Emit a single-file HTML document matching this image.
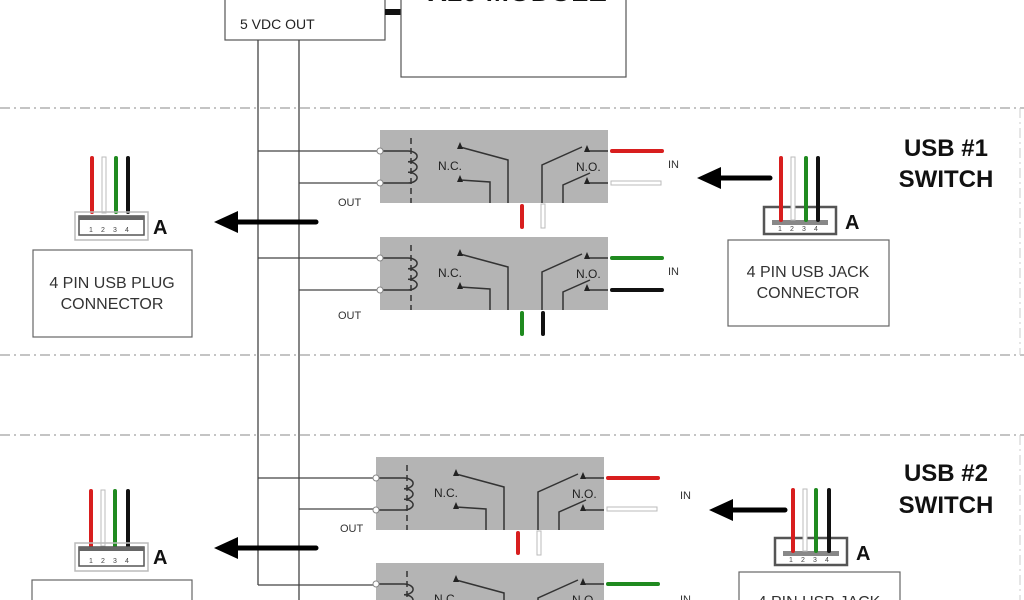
<!DOCTYPE html>
<html><head><meta charset="utf-8"><style>
html,body{margin:0;padding:0;background:#fff;width:1024px;height:600px;overflow:hidden;}
svg{display:block;font-family:"Liberation Sans",Arial,sans-serif;}
</style></head><body>
<svg width="1024" height="600" viewBox="0 0 1024 600" xmlns="http://www.w3.org/2000/svg">
<defs>
<g id="relay">
<rect x="0" y="0" width="228" height="73" fill="#b4b4b4"/>
<g stroke="#333" stroke-width="1.5" fill="none">
<line x1="0" y1="21" x2="28" y2="21"/>
<line x1="0" y1="53" x2="28" y2="53"/>
<path d="M28 21 A9 5.3 0 0 1 28 31.7 A9 5.3 0 0 1 28 42.3 A9 5.3 0 0 1 28 53"/>
<line x1="31" y1="8" x2="31" y2="73" stroke-dasharray="6,4"/>
<polyline points="80,17 128,30 128,73"/>
<polyline points="80,50 110,52 110,73"/>
<polyline points="162,73 162,35 202,17"/>
<polyline points="183,73 183,55 210,43"/>
<line x1="207" y1="21" x2="228" y2="21"/>
<line x1="207" y1="53" x2="228" y2="53"/>
</g>
<g fill="#222">
<polygon points="77,19 83,19 80,12"/>
<polygon points="77,52 83,52 80,45"/>
<polygon points="204,22 210,22 207,15"/>
<polygon points="204,54 210,54 207,47"/>
</g>
<text x="58" y="40" font-size="12" fill="#222">N.C.</text>
<text x="196" y="41" font-size="12" fill="#222">N.O.</text>
<circle cx="0" cy="21" r="3" fill="#fff" stroke="#888"/>
<circle cx="0" cy="53" r="3" fill="#fff" stroke="#888"/>
</g>
<g id="plug">
<rect x="0" y="0" width="73" height="28" fill="none" stroke="#bbb" stroke-width="1.5"/>
<rect x="4" y="4" width="65" height="19" fill="#fff" stroke="#555" stroke-width="1.5"/>
<rect x="4" y="4" width="65" height="4" fill="#666"/>
<text x="14" y="20" font-size="7" fill="#444">1</text><text x="26" y="20" font-size="7" fill="#444">2</text><text x="38" y="20" font-size="7" fill="#444">3</text><text x="50" y="20" font-size="7" fill="#444">4</text>
</g>
<g id="jack">
<rect x="0" y="0" width="72" height="27" fill="#fff" stroke="#555" stroke-width="2.5"/>
<rect x="8" y="13" width="56" height="5" fill="#888"/>
<text x="14" y="24" font-size="7" fill="#444">1</text><text x="26" y="24" font-size="7" fill="#444">2</text><text x="38" y="24" font-size="7" fill="#444">3</text><text x="50" y="24" font-size="7" fill="#444">4</text>
</g>
</defs>

<rect x="225" y="-10" width="160" height="50" fill="#fff" stroke="#555" stroke-width="1.2"/>
<text x="240" y="29" font-size="14" fill="#222">5 VDC OUT</text>
<rect x="385" y="9" width="16" height="6" fill="#111"/>
<rect x="401" y="-10" width="225" height="87" fill="#fff" stroke="#555" stroke-width="1.2"/>
<text x="428" y="1" font-size="28" font-weight="bold" fill="#111">X10 MODULE</text>

<g stroke="#888" stroke-width="1" stroke-dasharray="10,4,2,4" fill="none">
<line x1="0" y1="108" x2="1024" y2="108"/>
<line x1="0" y1="355" x2="1024" y2="355"/>
<line x1="0" y1="435" x2="1024" y2="435"/>
<line x1="1020" y1="108" x2="1020" y2="355" stroke="#ccc"/>
<line x1="1020" y1="435" x2="1020" y2="600" stroke="#ccc"/>
</g>

<g stroke="#444" stroke-width="1.3" fill="none">
<line x1="258" y1="40" x2="258" y2="585"/>
<line x1="299" y1="40" x2="299" y2="600"/>
<line x1="258" y1="151" x2="380" y2="151"/>
<line x1="299" y1="183" x2="380" y2="183"/>
<line x1="258" y1="258" x2="380" y2="258"/>
<line x1="299" y1="290" x2="380" y2="290"/>
<line x1="258" y1="478" x2="376" y2="478"/>
<line x1="299" y1="509" x2="376" y2="509"/>
<line x1="258" y1="585" x2="376" y2="585"/>
</g>

<use href="#relay" x="380" y="130"/>
<use href="#relay" x="380" y="237"/>
<use href="#relay" x="376" y="457"/>
<use href="#relay" x="376" y="563"/>

<g stroke-linecap="round" stroke-width="4">
<line x1="612" y1="151" x2="662" y2="151" stroke="#d81e1e"/>
<rect x="611" y="181" width="50" height="4" fill="#fff" stroke="#bbb" stroke-width="1"/>
<line x1="522" y1="206" x2="522" y2="227" stroke="#d81e1e"/>
<rect x="541" y="204" width="4" height="24" fill="#fff" stroke="#bbb" stroke-width="1"/>
<line x1="612" y1="258" x2="662" y2="258" stroke="#1f8a1f"/>
<line x1="612" y1="290" x2="662" y2="290" stroke="#111"/>
<line x1="522" y1="313" x2="522" y2="334" stroke="#1f8a1f"/>
<line x1="543" y1="313" x2="543" y2="334" stroke="#111"/>
<line x1="608" y1="478" x2="658" y2="478" stroke="#d81e1e"/>
<rect x="607" y="507" width="50" height="4" fill="#fff" stroke="#bbb" stroke-width="1"/>
<line x1="518" y1="533" x2="518" y2="553" stroke="#d81e1e"/>
<rect x="537" y="531" width="4" height="24" fill="#fff" stroke="#bbb" stroke-width="1"/>
<line x1="608" y1="584" x2="658" y2="584" stroke="#1f8a1f"/>
</g>

<g font-size="11" fill="#333">
<text x="668" y="168">IN</text><text x="668" y="275">IN</text>
<text x="680" y="499">IN</text><text x="680" y="603">IN</text>
<text x="338" y="206">OUT</text><text x="338" y="319">OUT</text><text x="340" y="532">OUT</text>
</g>

<g stroke="#000" stroke-width="5" stroke-linecap="round">
<line x1="316" y1="222" x2="232" y2="222"/>
<line x1="770" y1="178" x2="715" y2="178"/>
<line x1="316" y1="548" x2="232" y2="548"/>
<line x1="785" y1="510" x2="727" y2="510"/>
</g>
<g fill="#000">
<polygon points="214,222 238,211 238,233"/>
<polygon points="697,178 721,167 721,189"/>
<polygon points="214,548 238,537 238,559"/>
<polygon points="709,510 733,499 733,521"/>
</g>

<g stroke-width="4" stroke-linecap="round">
<line x1="92" y1="158" x2="92" y2="212" stroke="#d81e1e"/>
<line x1="116" y1="158" x2="116" y2="212" stroke="#1f8a1f"/>
<line x1="128" y1="158" x2="128" y2="212" stroke="#111"/>
<line x1="91" y1="491" x2="91" y2="546" stroke="#d81e1e"/>
<line x1="115" y1="491" x2="115" y2="546" stroke="#1f8a1f"/>
<line x1="128" y1="491" x2="128" y2="546" stroke="#111"/>
</g>
<rect x="102" y="157" width="4" height="56" fill="#fff" stroke="#bbb" stroke-width="1"/>
<rect x="101" y="490" width="4" height="56" fill="#fff" stroke="#bbb" stroke-width="1"/>
<use href="#plug" x="75" y="212"/>
<use href="#plug" x="75" y="543"/>
<text x="153" y="234" font-size="20" font-weight="bold" fill="#111">A</text>
<text x="153" y="564" font-size="20" font-weight="bold" fill="#111">A</text>
<rect x="33" y="250" width="159" height="87" fill="#fff" stroke="#666" stroke-width="1.2"/>
<text x="112" y="288" font-size="16" fill="#333" text-anchor="middle">4 PIN USB PLUG</text>
<text x="112" y="309" font-size="16" fill="#333" text-anchor="middle">CONNECTOR</text>
<rect x="32" y="580" width="160" height="40" fill="#fff" stroke="#666" stroke-width="1.2"/>

<use href="#jack" x="764" y="207"/>
<use href="#jack" x="775" y="538"/>
<g stroke-width="4" stroke-linecap="round">
<line x1="781" y1="158" x2="781" y2="220" stroke="#d81e1e"/>
<line x1="806" y1="158" x2="806" y2="220" stroke="#1f8a1f"/>
<line x1="818" y1="158" x2="818" y2="220" stroke="#111"/>
<line x1="793" y1="490" x2="793" y2="551" stroke="#d81e1e"/>
<line x1="816" y1="490" x2="816" y2="551" stroke="#1f8a1f"/>
<line x1="829" y1="490" x2="829" y2="551" stroke="#111"/>
</g>
<rect x="791" y="157" width="4" height="63" fill="#fff" stroke="#bbb" stroke-width="1"/>
<rect x="803" y="489" width="4" height="62" fill="#fff" stroke="#bbb" stroke-width="1"/>
<text x="845" y="229" font-size="20" font-weight="bold" fill="#111">A</text>
<text x="856" y="560" font-size="20" font-weight="bold" fill="#111">A</text>
<rect x="728" y="240" width="161" height="86" fill="#fff" stroke="#666" stroke-width="1.2"/>
<text x="808" y="277" font-size="16" fill="#333" text-anchor="middle">4 PIN USB JACK</text>
<text x="808" y="298" font-size="16" fill="#333" text-anchor="middle">CONNECTOR</text>
<rect x="739" y="572" width="161" height="50" fill="#fff" stroke="#666" stroke-width="1.2"/>
<text x="819" y="607" font-size="16" fill="#333" text-anchor="middle">4 PIN USB JACK</text>

<g font-size="24" font-weight="bold" fill="#111" text-anchor="middle">
<text x="946" y="156">USB #1</text><text x="946" y="187">SWITCH</text>
<text x="946" y="481">USB #2</text><text x="946" y="513">SWITCH</text>
</g>
</svg>
</body></html>
